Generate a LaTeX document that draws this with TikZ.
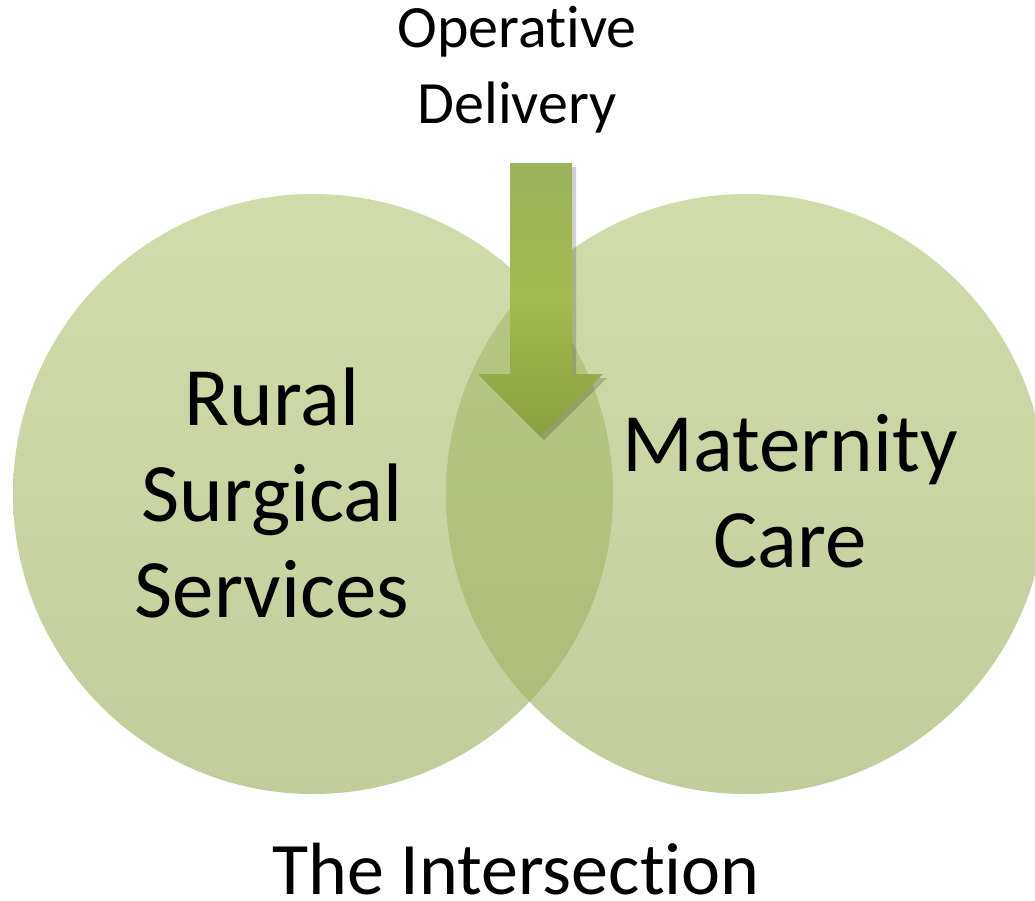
\documentclass[tikz,border=0pt]{standalone}
\usepackage{fontspec}
\setmainfont{Carlito}[Ligatures=NoCommon]
\usetikzlibrary{shadings}
\definecolor{discA}{RGB}{208,220,169}
\definecolor{discB}{RGB}{194,205,156}
\definecolor{lensA}{RGB}{184,200,133}
\definecolor{lensB}{RGB}{172,188,120}
\definecolor{arrTop}{RGB}{156,178,92}
\definecolor{arrMid}{RGB}{163,186,80}
\definecolor{arrBot}{RGB}{138,160,64}
\tikzset{
  disc/.style={shading=axis, shading angle=45, top color=discA, bottom color=discB},
  lens/.style={shading=axis, shading angle=45, top color=lensA, bottom color=lensB},
  bigtext/.style={font=\fontsize{83}{96}\selectfont, align=center, inner sep=0pt, text=black},
  basetext/.style={font=\fontsize{74}{96}\selectfont, align=center, inner sep=0pt, text=black, text depth=0pt},
  smalltext/.style={font=\fontsize{60}{76}\selectfont, align=center, inner sep=0pt, text=black},
}
\begin{document}
\begin{tikzpicture}[x=1pt,y=-1pt]
  \useasboundingbox (0,0) rectangle (1035,900);
  \clip (0,0) rectangle (1035,900);

  % the two overlapping discs
  \coordinate (cl) at (313,494);
  \coordinate (cr) at (746,494);
  \shade[disc] (cl) circle[radius=300];
  \shade[disc] (cr) circle[radius=300];
  \begin{scope}
    \clip (cl) circle[radius=300];
    \shade[lens] (cr) circle[radius=300];
  \end{scope}

  % downward arrow into the overlap: shadow, then body
  \fill[black, opacity=0.18, xshift=4pt, yshift=-4pt]
    (510,163) -- (572,163) -- (572,374) -- (603,374) -- (540,436)
    -- (478,374) -- (510,374) -- cycle;
  \shade[top color=arrTop, bottom color=arrBot, middle color=arrMid]
    (510,163) -- (572,163) -- (572,374) -- (603,374) -- (540,436)
    -- (478,374) -- (510,374) -- cycle;

  % labels (anchored at the baseline of their last line)
  \node[smalltext, anchor=base] (op) at (517,123) {Operative\\Delivery};
  \node[bigtext, anchor=base] (rural) at (272,617) {Rural\\Surgical\\Services};
  \node[bigtext, anchor=base] (mat) at (790,567) {Maternity\\Care};
  \node[basetext, anchor=base] (inter) at (516,894) {The Intersection};
\end{tikzpicture}
\end{document}
